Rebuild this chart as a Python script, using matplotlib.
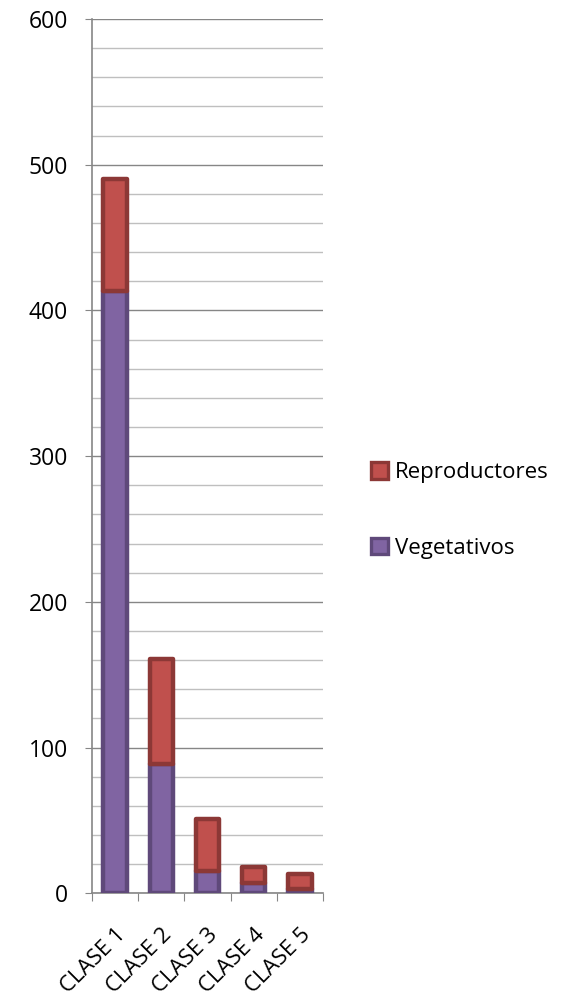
import numpy as np
import matplotlib
matplotlib.use('Agg')
import matplotlib.pyplot as plt
from matplotlib.patches import Patch
from matplotlib.ticker import MultipleLocator

plt.rcParams['font.family'] = ['Open Sans', 'DejaVu Sans']

# data
clases = ['CLASE 1', 'CLASE 2', 'CLASE 3', 'CLASE 4', 'CLASE 5']
vegetativos = [413, 89, 15, 7, 3]
reproductores = [77, 72, 36, 11, 10]

red_fill, red_edge = '#C0504D', '#8C3836'
pur_fill, pur_edge = '#8064A2', '#5F497A'
grid_major, grid_minor = '#868686', '#BFBFBF'

fig = plt.figure(figsize=(5.74, 9.97), dpi=100)
ax = fig.add_axes([0.160, 0.104, 0.403, 0.877])

x = np.arange(len(clases))
ax.bar(x, vegetativos, width=0.5, color=pur_fill, edgecolor=pur_edge,
       linewidth=3.2, joinstyle='round', zorder=3, label='Vegetativos')
ax.bar(x, reproductores, width=0.5, bottom=vegetativos, color=red_fill,
       edgecolor=red_edge, linewidth=3.2, joinstyle='round', zorder=4,
       label='Reproductores')

ax.set_xlim(-0.5, len(clases) - 0.5)
ax.set_ylim(0, 600)
ax.yaxis.set_major_locator(MultipleLocator(100))
ax.yaxis.set_minor_locator(MultipleLocator(20))
ax.grid(which='major', axis='y', color=grid_major, linewidth=1.0, zorder=0)
ax.grid(which='minor', axis='y', color=grid_minor, linewidth=1.0, zorder=0)
ax.set_axisbelow(True)

for s in ['top', 'right']:
    ax.spines[s].set_visible(False)
for s in ['left', 'bottom']:
    ax.spines[s].set_color(grid_major)
    ax.spines[s].set_linewidth(1.2)

ax.tick_params(axis='y', which='major', length=5, color=grid_major,
               labelsize=16.5, pad=12)
ax.tick_params(axis='y', which='minor', length=0)

# category ticks at the boundaries, labels at the centres
ax.set_xticks(np.arange(len(clases) + 1) - 0.5)
ax.set_xticklabels([])
ax.tick_params(axis='x', which='major', length=6, color=grid_major)
ax.set_xticks(x, minor=True)
ax.set_xticklabels(clases, minor=True, rotation=45, ha='right',
                   rotation_mode='anchor', fontsize=16)
ax.tick_params(axis='x', which='minor', length=0, pad=22)

handles = [Patch(facecolor=red_fill, edgecolor=red_edge, linewidth=2.4),
           Patch(facecolor=pur_fill, edgecolor=pur_edge, linewidth=2.4)]
fig.legend(handles, ['Reproductores', 'Vegetativos'], loc='center left',
           bbox_to_anchor=(0.612, 0.488), frameon=False, fontsize=16,
           handlelength=0.75, handleheight=0.75, handletextpad=0.3,
           labelspacing=2.45)

fig.savefig('out.png', dpi=100)
